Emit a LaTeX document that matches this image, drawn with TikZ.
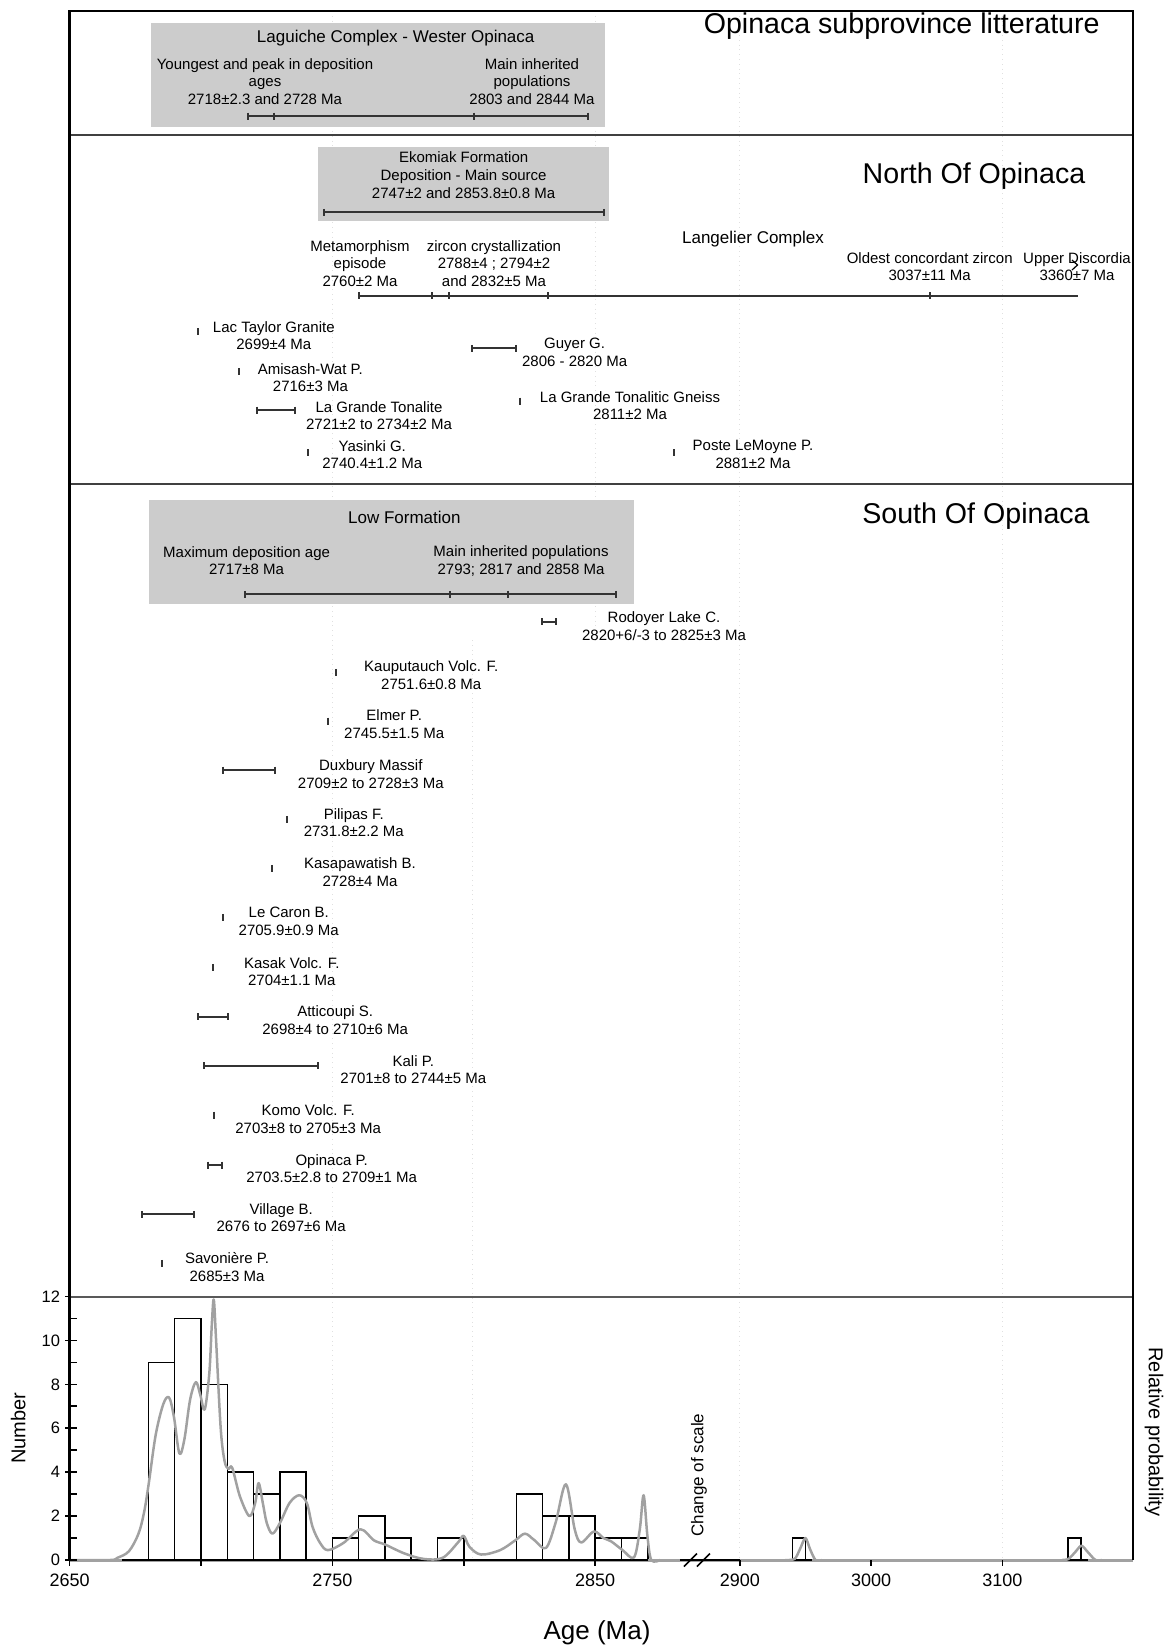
\documentclass[tikz,border=0pt]{standalone}
\usepackage{fontspec}
\setmainfont{Liberation Sans}
\newcommand\mytick[2]{\draw[tickl] (#1,#2-3.5) -- (#1,#2+3.5);}
\newcommand\myebar[3]{\draw[barl] (#1,#3) -- (#2,#3); \mytick{#1}{#3}\mytick{#2}{#3}}
\begin{document}
\begin{tikzpicture}[x=0.5pt,y=-0.5pt,
  sm/.style={font=\fontsize{7.5}{8.8}\selectfont, align=center, inner sep=0pt},
  hd/.style={font=\fontsize{8.5}{10}\selectfont, inner sep=0pt},
  ttl/.style={font=\fontsize{14.3}{16}\selectfont, inner sep=0pt, anchor=base},
  barl/.style={line width=1pt, draw=black!80},
  tickl/.style={line width=1pt, draw=black!80},
  gridl/.style={draw=black!12, dotted, line width=0.4pt},
  graybox/.style={fill=black!20, draw=none},
  histbar/.style={draw=black, line width=0.75pt},
  curve/.style={draw=black!37, line width=1.25pt, line join=round},
  ylab/.style={font=\fontsize{8.25}{10}\selectfont, inner sep=0pt, anchor=east},
  xlab/.style={font=\fontsize{9}{11}\selectfont, inner sep=0pt},
]
\useasboundingbox (0,0) rectangle (1165,1649);

% faint grid lines
\draw[gridl] (332.4,11) -- (332.4,1560);
\draw[gridl] (595.2,11) -- (595.2,640);
\draw[gridl] (472.7,640) -- (472.7,1560);
\draw[gridl] (739.8,11) -- (739.8,1560);
\draw[gridl] (1002.4,11) -- (1002.4,1560);

% ---------- Panel 1 ----------
\fill[graybox] (151,23.3) rectangle (604.6,127.3);
\node[hd] (lag) at (395.7,38.3) {Laguiche Complex - Wester Opinaca};
\node[sm] (youngest) at (265,81.5) {Youngest and peak in deposition\\ages\\2718±2.3 and 2728 Ma};
\node[sm] (maininh1) at (532,81.5) {Main inherited\\populations\\2803 and 2844 Ma};
\myebar{248.2}{587.5}{116}
\mytick{273.6}{116}
\mytick{474.3}{116}
\node[ttl, anchor=base east] (title1) at (1100,33) {Opinaca subprovince litterature};

% ---------- Panel 2 ----------
\fill[graybox] (317.9,146.7) rectangle (609,221);
\node[sm] (ekomiak) at (463.6,175.2) {Ekomiak Formation\\Deposition - Main source\\2747±2 and 2853.8±0.8 Ma};
\myebar{324.3}{603.6}{212.3}
\node[ttl] (north) at (974,183.3) {North Of Opinaca};

\node[sm] (meta) at (360,263.6) {Metamorphism\\episode\\2760±2 Ma};
\node[sm] (zircon) at (494,263.6) {zircon crystallization\\2788±4 ; 2794±2\\and 2832±5 Ma};
\node[hd] (langelier) at (753,239.3) {Langelier Complex};
\node[sm] (oldest) at (929.7,266.5) {Oldest concordant zircon\\3037±11 Ma};
\node[sm] (upper) at (1077,266.5) {Upper Discordia\\3360±7 Ma};
\draw[line width=0.6pt] (1072,260) -- (1077.5,265) -- (1072,270);
\draw[barl] (359.3,295.7) -- (1077.5,295.7);
\mytick{359.3}{295.7}
\mytick{432}{295.7}
\mytick{449.3}{295.7}
\mytick{547.5}{295.7}
\mytick{929.7}{295.7}

\node[sm] (lactaylor) at (273.8,335.5) {Lac Taylor Granite\\2699±4 Ma};
\mytick{198.2}{331.7}
\node[sm] (amisash) at (310.4,377.7) {Amisash-Wat P.\\2716±3 Ma};
\mytick{239.3}{371.7}
\node[sm] (lgton) at (379,415.5) {La Grande Tonalite\\2721±2 to 2734±2 Ma};
\myebar{257.1}{295}{410}
\node[sm] (yasinki) at (372.3,454.7) {Yasinki G.\\2740.4±1.2 Ma};
\mytick{307.5}{452.7}
\node[sm] (guyer) at (574.6,352.2) {Guyer G.\\2806 - 2820 Ma};
\myebar{471.7}{516}{348.3}
\node[sm] (lgtg) at (630,405.5) {La Grande Tonalitic Gneiss\\2811±2 Ma};
\mytick{520}{401}
\node[sm] (poste) at (753,454.2) {Poste LeMoyne P.\\2881±2 Ma};
\mytick{674.3}{452.7}

% ---------- Panel 3 ----------
\fill[graybox] (149.3,500) rectangle (633.7,604);
\node[hd] (low) at (404.4,517.7) {Low Formation};
\node[sm] (maxdep) at (246.6,560.8) {Maximum deposition age\\2717±8 Ma};
\node[sm] (maininh2) at (521,560.8) {Main inherited populations\\2793; 2817 and 2858 Ma};
\myebar{245.3}{615.8}{594.3}
\mytick{449.7}{594.3}
\mytick{507.8}{594.3}
\node[ttl] (south) at (976,523) {South Of Opinaca};

\node[sm] (rodoyer) at (664,625.9) {Rodoyer Lake C.\\2820+6/-3 to 2825±3 Ma};
\myebar{542.1}{556.4}{621.7}
\node[sm] (kauputauch) at (431.2,675.4) {Kauputauch Volc. F.\\2751.6±0.8 Ma};
\mytick{336}{672.3}
\node[sm] (elmer) at (394.2,724.3) {Elmer P.\\2745.5±1.5 Ma};
\mytick{327.7}{721}
\node[sm] (duxbury) at (370.8,773.9) {Duxbury Massif\\2709±2 to 2728±3 Ma};
\myebar{223.3}{275}{770}
\node[sm] (pilipas) at (353.8,822.5) {Pilipas F.\\2731.8±2.2 Ma};
\mytick{286.7}{819.3}
\node[sm] (kasapawatish) at (360,872.2) {Kasapawatish B.\\2728±4 Ma};
\mytick{272.3}{868.3}
\node[sm] (lecaron) at (288.7,921.5) {Le Caron B.\\2705.9±0.9 Ma};
\mytick{223.3}{917.3}
\node[sm] (kasak) at (291.8,971.5) {Kasak Volc. F.\\2704±1.1 Ma};
\mytick{212.7}{967.3}
\node[sm] (atticoupi) at (335.2,1020) {Atticoupi S.\\2698±4 to 2710±6 Ma};
\myebar{197.7}{228.3}{1016.7}
\node[sm] (kali) at (413.3,1069.7) {Kali P.\\2701±8 to 2744±5 Ma};
\myebar{204}{317.7}{1065.7}
\node[sm] (komo) at (308.2,1119.2) {Komo Volc. F.\\2703±8 to 2705±3 Ma};
\mytick{214}{1115}
\node[sm] (opinacap) at (331.7,1168.5) {Opinaca P.\\2703.5±2.8 to 2709±1 Ma};
\myebar{207.7}{222.3}{1165}
\node[sm] (village) at (281.2,1217.5) {Village B.\\2676 to 2697±6 Ma};
\myebar{142}{194}{1214.3}
\node[sm] (savoniere) at (227.1,1267.2) {Savonière P.\\2685±3 Ma};
\mytick{161.7}{1263.3}

% ---------- Histogram ----------
\begin{scope}[shift={(0,1560)}, y=10.98pt]
  \draw[histbar] (148.44,0) rectangle (174.72,9);
  \draw[histbar] (174.72,0) rectangle (201.0,11);
  \draw[histbar] (201.0,0) rectangle (227.28,8);
  \draw[histbar] (227.28,0) rectangle (253.56,4);
  \draw[histbar] (253.56,0) rectangle (279.84,3);
  \draw[histbar] (279.84,0) rectangle (306.12,4);
  \draw[histbar] (332.4,0) rectangle (358.68,1);
  \draw[histbar] (358.68,0) rectangle (384.96,2);
  \draw[histbar] (384.96,0) rectangle (411.24,1);
  \draw[histbar] (437.52,0) rectangle (463.8,1);
  \draw[histbar] (516.36,0) rectangle (542.64,3);
  \draw[histbar] (542.64,0) rectangle (568.92,2);
  \draw[histbar] (568.92,0) rectangle (595.2,2);
  \draw[histbar] (595.2,0) rectangle (621.48,1);
  \draw[histbar] (621.48,0) rectangle (647.76,1);
  \draw[histbar] (792.3,0) rectangle (805.5,1);
  \draw[histbar] (1068.1,0) rectangle (1081.2,1);
  % baseline
  \draw[draw=black!37, line width=1.5pt] (69.6,0) -- (1133,0);
  \draw[draw=black, line width=1.2pt] (122,0) -- (648,0);
  \draw[draw=black, line width=1.2pt] (680,0) -- (740,0);
  \draw[draw=black, line width=1.2pt] (786,0) -- (812,0);
  \draw[draw=black, line width=1.2pt] (1062,0) -- (1088,0);
  % probability curve
  \draw[curve] plot[smooth, tension=0.55] coordinates {
    (69.6,0) (110,0) (117.4,0.1) (128.9,0.4) (138.5,1.2) (144.2,2.2) (148.8,3.5)
    (155.7,5.7) (163.3,7.1) (169.1,7.4) (174.0,6.5) (179.4,4.85) (184.4,5.5)
    (190.1,7.3) (195.9,8.1) (200.4,7.5) (204.7,6.85) (209.3,8.5) (211.9,10.8)
    (213.8,11.85) (216.1,10.0) (220.7,6.0) (224.6,4.5) (228.4,4.15) (232.2,4.2)
    (239.9,2.9) (249.4,2.0) (255.2,2.6) (258.6,3.5) (262.8,2.6) (266.7,1.7)
    (272.4,1.2) (280.1,1.7) (289.6,2.6) (299.2,2.95) (306.8,2.6) (312.6,1.5)
    (320.2,0.77) (327.9,0.45) (343.2,0.77) (360.4,1.4) (373.8,0.9) (385.3,0.7)
    (404.4,0.3) (423.6,0.05) (442.7,0.1) (458.0,0.8) (463.7,1.1) (469.5,0.6)
    (481.0,0.25) (500.1,0.45) (515.4,0.9) (525.0,1.2) (534.5,0.9) (546.0,0.55)
    (555.6,1.7) (565.9,3.45) (574.7,1.4) (581.2,0.8) (593.9,1.3) (603.4,1.0)
    (611.1,0.85) (622.6,0.45) (634.0,0.12) (639.8,1.4) (643.6,2.95) (647.4,1.1)
    (651.3,0) (660,0)};
  \draw[curve] plot[smooth, tension=0.5] coordinates {
    (785,0) (794.6,0.05) (800,0.5) (805.4,1.0) (810,0.5) (815.5,0) (822,0)};
  \draw[curve] plot[smooth, tension=0.5] coordinates {
    (1062,0) (1068.5,0.05) (1075,0.35) (1081.4,0.65) (1088,0.35) (1095.5,0) (1102,0)};
  % y axis ticks and labels
  \foreach \k in {0,2,...,12} {
    \draw[line width=0.8pt] (65,\k) -- (77,\k);
    \node[ylab] (ylab\k) at (60.5,\k) {\k};
  }
  \foreach \k in {1,3,...,11} {
    \draw[line width=0.8pt] (69.5,\k) -- (77,\k);
  }
\end{scope}

% x axis ticks and labels
\foreach \xx/\lab in {69.6/2650,332.4/2750,595.2/2850,739.8/2900,871.1/3000,1002.4/3100} {
  \draw[line width=0.8pt] (\xx,1560) -- (\xx,1566);
  \node[xlab] (xl\lab) at (\xx,1580) {\lab};
}
\foreach \xx in {201,463.8} {
  \draw[line width=0.8pt] (\xx,1560) -- (\xx,1566);
}
% change of scale break marks
\draw[line width=0.8pt] (684,1566.5) -- (697,1553.5);
\draw[line width=0.8pt] (697,1566.5) -- (710,1553.5);
\node[font=\fontsize{8.5}{10}\selectfont, rotate=90, inner sep=0pt] (chg) at (699,1475) {Change of scale};

% axis titles
\node[font=\fontsize{10}{12}\selectfont, rotate=90, inner sep=0pt] (number) at (18.3,1428.3) {Number};
\node[font=\fontsize{10}{12}\selectfont, rotate=-90, inner sep=0pt] (relprob) at (1154,1432) {Relative probability};
\node[font=\fontsize{13}{15}\selectfont, inner sep=0pt] (age) at (597,1633) {Age (Ma)};

% ---------- frame and dividers ----------
\draw[draw=black!75, line width=1pt] (69.5,135) -- (1133,135);
\draw[draw=black!75, line width=1pt] (69.5,484) -- (1133,484);
\draw[draw=black!65, line width=1pt] (69.5,1296.5) -- (1133,1296.5);
\draw[line width=1.25pt] (69.5,1560) -- (69.5,11) -- (1133,11) -- (1133,1560);
\end{tikzpicture}
\end{document}
